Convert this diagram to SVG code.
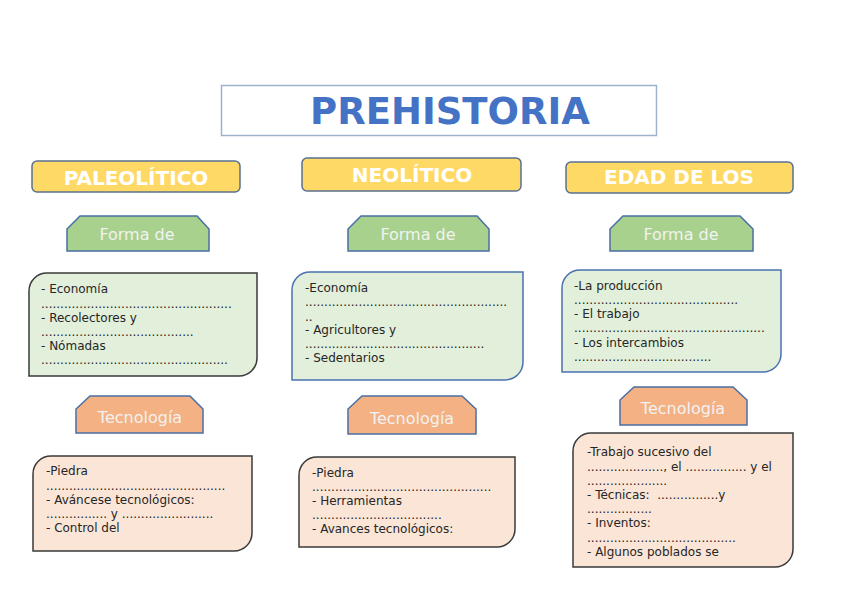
<svg xmlns="http://www.w3.org/2000/svg" width="848" height="599" viewBox="0 0 848 599">
<style>
.hdr{fill:#ffd966;stroke:#5a7090;stroke-width:1.5}
.hdrt{font-family:"DejaVu Sans",sans-serif;font-weight:bold;font-size:20px;fill:#ffffff;text-anchor:middle}
.tab-g{fill:#a9d18e;stroke:#4a6fa5;stroke-width:1.5}
.tab-o{fill:#f4b183;stroke:#4a6fa5;stroke-width:1.5}
.tabt{font-family:"DejaVu Sans",sans-serif;font-size:16px;fill:#f2f2f2;text-anchor:middle}
.box-g{fill:#e2efda;stroke-width:1.5}
.box-o{fill:#fbe5d6;stroke:#3a3a3a;stroke-width:1.5}
.dk{stroke:#3a3a3a}
.bl{stroke:#4a72b0}
.bt{font-family:"DejaVu Sans",sans-serif;font-size:12px;fill:#262626;white-space:pre}
</style>
<rect width="848" height="599" fill="#ffffff"/>
<g id="title">
<rect x="221.5" y="85.5" width="435" height="50" fill="#ffffff" stroke="#9fb2cc" stroke-width="1.5"/>
<text x="450" y="124" font-family="DejaVu Sans, sans-serif" font-weight="bold" font-size="37" fill="#4472c4" text-anchor="middle">PREHISTORIA</text>
</g>
<g id="connectors"></g>
<g id="paleolitico">
<rect class="hdr" x="32" y="161" width="208" height="31" rx="5"/>
<text class="hdrt" x="136" y="185">PALEOLÍTICO</text>
</g>
<g id="neolitico">
<rect class="hdr" x="302" y="158" width="219" height="33" rx="5"/>
<text class="hdrt" x="412" y="182">NEOLÍTICO</text>
</g>
<g id="edad">
<rect class="hdr" x="566" y="162" width="227" height="31" rx="5"/>
<text class="hdrt" x="679" y="184">EDAD DE LOS</text>
</g>
<g id="forma1">
<path class="tab-g" d="M67,251 V229 L80,216 H197 L209,229 V251 Z"/>
<text class="tabt" x="137" y="240">Forma de</text>
</g>
<g id="forma2">
<path class="tab-g" d="M348,251 V229 L361,216 H477 L489,229 V251 Z"/>
<text class="tabt" x="418" y="240">Forma de</text>
</g>
<g id="forma3">
<path class="tab-g" d="M610,251 V229 L623,216 H740 L753,229 V251 Z"/>
<text class="tabt" x="681" y="240">Forma de</text>
</g>
<g id="forma1-text">
<path class="box-g dk" d="M29,376 V291 A18,18 0 0 1 47,273 H257 V358 A18,18 0 0 1 239,376 Z"/>
<text class="bt" x="41" y="293">- Economía</text>
<text class="bt" x="41" y="308">..................................................</text>
<text class="bt" x="41" y="322">- Recolectores y</text>
<text class="bt" x="41" y="336">........................................</text>
<text class="bt" x="41" y="350">- Nómadas</text>
<text class="bt" x="41" y="364">.................................................</text>
</g>
<g id="forma2-text">
<path class="box-g bl" d="M292,380 V290 A18,18 0 0 1 310,272 H523 V362 A18,18 0 0 1 505,380 Z"/>
<text class="bt" x="305" y="292">-Economía</text>
<text class="bt" x="305" y="306">.....................................................</text>
<text class="bt" x="305" y="321">..</text>
<text class="bt" x="305" y="334">- Agricultores y</text>
<text class="bt" x="305" y="348">...............................................</text>
<text class="bt" x="305" y="362">- Sedentarios</text>
</g>
<g id="forma3-text">
<path class="box-g bl" d="M562,372 V288 A18,18 0 0 1 580,270 H781 V354 A18,18 0 0 1 763,372 Z"/>
<text class="bt" x="574" y="290">-La producción</text>
<text class="bt" x="574" y="304">...........................................</text>
<text class="bt" x="574" y="318">- El trabajo</text>
<text class="bt" x="574" y="332">..................................................</text>
<text class="bt" x="574" y="347">- Los intercambios</text>
<text class="bt" x="574" y="361">....................................</text>
</g>
<g id="tec1">
<path class="tab-o" d="M76,433 V409 L90,396 H190 L203,409 V433 Z"/>
<text class="tabt" x="140" y="423">Tecnología</text>
</g>
<g id="tec2">
<path class="tab-o" d="M348,434 V409 L362,396 H462 L476,409 V434 Z"/>
<text class="tabt" x="412" y="424">Tecnología</text>
</g>
<g id="tec3">
<path class="tab-o" d="M620,425 V400 L634,387 H733 L747,400 V425 Z"/>
<text class="tabt" x="683" y="414">Tecnología</text>
</g>
<g id="tec1-text">
<path class="box-o" d="M33,551 V474 A18,18 0 0 1 51,456 H252 V533 A18,18 0 0 1 234,551 Z"/>
<text class="bt" x="46" y="475">-Piedra</text>
<text class="bt" x="46" y="490">...............................................</text>
<text class="bt" x="46" y="504">- Aváncese tecnológicos:</text>
<text class="bt" x="46" y="518">................ y ........................</text>
<text class="bt" x="46" y="532">- Control del</text>
</g>
<g id="tec2-text">
<path class="box-o" d="M299,547 V475 A18,18 0 0 1 317,457 H515 V529 A18,18 0 0 1 497,547 Z"/>
<text class="bt" x="312" y="477">-Piedra</text>
<text class="bt" x="312" y="491">...............................................</text>
<text class="bt" x="312" y="505">- Herramientas</text>
<text class="bt" x="312" y="519">..................................</text>
<text class="bt" x="312" y="533">- Avances tecnológicos:</text>
</g>
<g id="tec3-text">
<path class="box-o" d="M573,567 V451 A18,18 0 0 1 591,433 H793 V549 A18,18 0 0 1 775,567 Z"/>
<text class="bt" x="587" y="456">-Trabajo sucesivo del</text>
<text class="bt" x="587" y="471">...................., el ................ y el</text>
<text class="bt" x="587" y="485">.....................</text>
<text class="bt" x="587" y="499">- Técnicas:  ................y</text>
<text class="bt" x="587" y="513">.................</text>
<text class="bt" x="587" y="527">- Inventos:</text>
<text class="bt" x="587" y="542">.......................................</text>
<text class="bt" x="587" y="556">- Algunos poblados se</text>
</g>
</svg>
